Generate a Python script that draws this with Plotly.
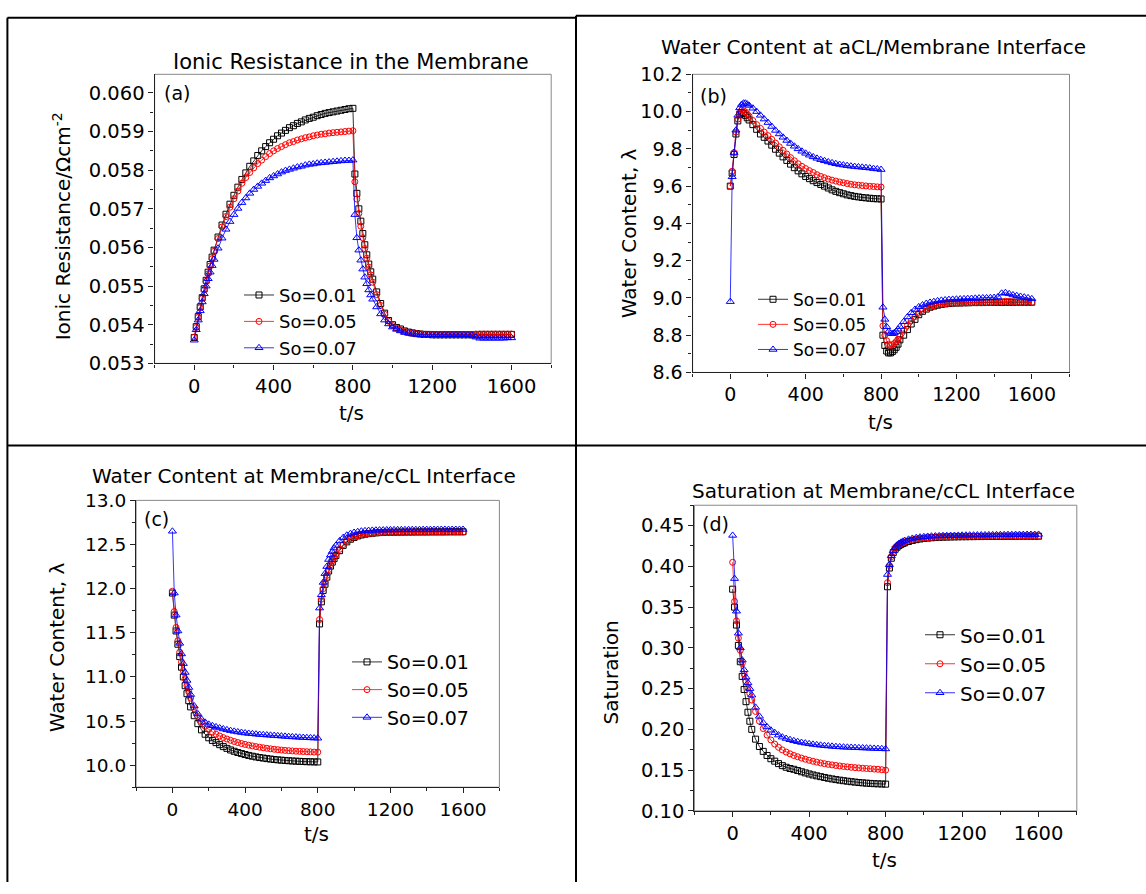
import plotly.graph_objects as go

W, H = 1146, 894

# time grid (s), shared by all curves
t = [0, 10, 20, 30, 40, 50, 60, 70, 80, 90, 100,
     120, 140, 160, 180, 200, 220, 240, 260, 280, 300, 320, 340, 360, 380, 400,
     420, 440, 460, 480, 500, 520, 540, 560, 580, 600, 620, 640, 660, 680, 700, 720, 740, 760, 780, 800,
     810, 820, 830, 840, 850, 860, 870, 880, 890, 900,
     920, 940, 960, 980, 1000, 1020, 1040, 1060, 1080, 1100, 1120, 1140, 1160, 1180, 1200,
     1220, 1240, 1260, 1280, 1300, 1320, 1340, 1360, 1380, 1400, 1420, 1440, 1460, 1480, 1500, 1520, 1540, 1560, 1580, 1600]

labels = ["So=0.01", "So=0.05", "So=0.07"]

# (a) ionic resistance in the membrane
res_01 = [.05367, .05395, .05421, .05446, .05470, .05493, .05515, .05536, .05556, .05575, .05593,
          .05627, .05658, .05686, .05712, .05735, .05756, .05776, .05793, .05810, .05824, .05838, .05850, .05861, .05871, .05880,
          .05889, .05896, .05903, .05910, .05915, .05921, .05925, .05930, .05934, .05937, .05941, .05944, .05947, .05949, .05951, .05953, .05955, .05957, .05959, .05960,
          .05790, .05740, .05700, .05668, .05636, .05607, .05581, .05557, .05537, .05518,
          .05485, .05455, .05430, .05411, .05400, .05393, .05389, .05384, .05381, .05379, .05377, .05376, .05375, .05375, .05374,
          .05374, .05374, .05374, .05374, .05374, .05374, .05374, .05374, .05374, .05374, .05374, .05375, .05375, .05375, .05375, .05375, .05375, .05375, .05375, .05375]
res_05 = [.05368, .05393, .05419, .05444, .05468, .05490, .05512, .05532, .05552, .05571, .05590,
          .05623, .05653, .05680, .05704, .05726, .05746, .05766, .05781, .05794, .05806, .05817, .05826, .05835, .05843, .05850,
          .05856, .05861, .05866, .05871, .05874, .05878, .05881, .05884, .05886, .05889, .05891, .05893, .05894, .05896, .05897, .05898, .05899, .05900, .05901, .05902,
          .05770, .05725, .05688, .05655, .05625, .05597, .05572, .05549, .05529, .05510,
          .05478, .05450, .05427, .05409, .05398, .05391, .05387, .05383, .05380, .05378, .05377, .05376, .05375, .05375, .05375,
          .05375, .05375, .05375, .05375, .05375, .05375, .05375, .05375, .05375, .05375, .05376, .05376, .05376, .05376, .05376, .05376, .05376, .05376, .05376, .05376]
res_07 = [.05360, .05387, .05412, .05436, .05459, .05480, .05500, .05519, .05536, .05553, .05569,
          .05598, .05624, .05647, .05667, .05685, .05701, .05716, .05728, .05740, .05750, .05758, .05766, .05773, .05780, .05785,
          .05790, .05795, .05799, .05802, .05805, .05808, .05810, .05813, .05815, .05816, .05818, .05819, .05820, .05821, .05822, .05823, .05824, .05825, .05825, .05826,
          .05685, .05625, .05593, .05567, .05544, .05523, .05506, .05490, .05477, .05466,
          .05446, .05428, .05412, .05402, .05394, .05388, .05384, .05380, .05378, .05376, .05375, .05374, .05374, .05374, .05374,
          .05374, .05374, .05374, .05374, .05374, .05374, .05374, .05374, .05374, .05373, .05368, .05365, .05365, .05365, .05365, .05365, .05365, .05365, .05366, .05366]

# (b) water content at aCL/membrane interface
wa_01 = [9.600, 9.670, 9.770, 9.880, 9.950, 9.985, 9.995, 9.990, 9.980, 9.967, 9.955,
         9.930, 9.905, 9.880, 9.862, 9.842, 9.820, 9.798, 9.777, 9.757, 9.738, 9.718, 9.699, 9.682, 9.666, 9.652,
         9.640, 9.629, 9.619, 9.609, 9.600, 9.590, 9.580, 9.572, 9.565, 9.559, 9.553, 9.549, 9.545, 9.542, 9.539, 9.537, 9.535, 9.533, 9.532, 9.531,
         8.800, 8.745, 8.715, 8.705, 8.705, 8.712, 8.722, 8.735, 8.752, 8.775,
         8.800, 8.830, 8.860, 8.885, 8.910, 8.928, 8.940, 8.950, 8.956, 8.961, 8.965, 8.968, 8.970, 8.972, 8.973,
         8.973, 8.974, 8.974, 8.975, 8.975, 8.975, 8.975, 8.976, 8.976, 8.976, 8.976, 8.976, 8.977, 8.977, 8.977, 8.977, 8.977, 8.977, 8.977, 8.977]
wa_05 = [9.600, 9.680, 9.780, 9.890, 9.960, 9.995, 10.008, 10.005, 9.998, 9.987, 9.975,
         9.952, 9.930, 9.910, 9.890, 9.871, 9.851, 9.831, 9.811, 9.792, 9.772, 9.753, 9.736, 9.720, 9.706, 9.694,
         9.683, 9.673, 9.661, 9.652, 9.645, 9.638, 9.632, 9.627, 9.622, 9.618, 9.614, 9.610, 9.607, 9.605, 9.603, 9.601, 9.599, 9.598, 9.596, 9.595,
         8.850, 8.800, 8.770, 8.752, 8.745, 8.748, 8.755, 8.765, 8.778, 8.795,
         8.825, 8.852, 8.877, 8.900, 8.918, 8.933, 8.944, 8.952, 8.958, 8.963, 8.966, 8.969, 8.971, 8.972, 8.973,
         8.973, 8.974, 8.974, 8.974, 8.975, 8.975, 8.975, 8.975, 8.975, 8.976, 8.976, 8.978, 8.982, 8.981, 8.979, 8.977, 8.976, 8.976, 8.976, 8.976]
wa_07 = [8.980, 9.650, 9.780, 9.900, 9.980, 10.020, 10.038, 10.045, 10.045, 10.040, 10.033,
         10.018, 10.000, 9.980, 9.960, 9.941, 9.920, 9.899, 9.880, 9.862, 9.845, 9.829, 9.814, 9.800, 9.787, 9.776,
         9.766, 9.757, 9.749, 9.742, 9.736, 9.730, 9.725, 9.720, 9.716, 9.713, 9.710, 9.707, 9.705, 9.703, 9.701, 9.699, 9.697, 9.694, 9.692, 9.689,
         8.950, 8.885, 8.845, 8.820, 8.810, 8.808, 8.812, 8.820, 8.832, 8.846,
         8.872, 8.898, 8.920, 8.938, 8.952, 8.962, 8.970, 8.976, 8.980, 8.984, 8.987, 8.989, 8.991, 8.992, 8.993,
         8.994, 8.995, 8.996, 8.997, 8.998, 8.999, 9.000, 9.000, 9.001, 9.002, 9.005, 9.025, 9.028, 9.022, 9.016, 9.012, 9.008, 9.004, 9.000, 8.995]

# (c) water content at membrane/cCL interface
wc_01 = [11.95, 11.70, 11.52, 11.37, 11.23, 11.11, 11.00, 10.90, 10.81, 10.73, 10.66,
         10.56, 10.47, 10.40, 10.35, 10.31, 10.28, 10.255, 10.232, 10.21, 10.19, 10.172, 10.157, 10.143, 10.131, 10.12,
         10.11, 10.101, 10.093, 10.086, 10.08, 10.074, 10.069, 10.064, 10.06, 10.056, 10.053, 10.05, 10.047, 10.045, 10.043, 10.041, 10.039, 10.038, 10.037, 10.036,
         11.60, 11.85, 11.98, 12.05, 12.13, 12.20, 12.255, 12.30, 12.34, 12.375,
         12.43, 12.49, 12.53, 12.56, 12.58, 12.597, 12.608, 12.617, 12.623, 12.628, 12.632, 12.635, 12.637, 12.639, 12.64,
         12.64, 12.641, 12.641, 12.642, 12.642, 12.642, 12.643, 12.643, 12.643, 12.643, 12.644, 12.644, 12.644, 12.644, 12.644, 12.645, 12.645, 12.645, 12.645, 12.645]
wc_05 = [11.97, 11.74, 11.56, 11.41, 11.28, 11.17, 11.07, 10.98, 10.90, 10.83, 10.76,
         10.64, 10.55, 10.49, 10.44, 10.405, 10.375, 10.35, 10.33, 10.312, 10.296, 10.281, 10.268, 10.256, 10.245, 10.235,
         10.226, 10.218, 10.21, 10.203, 10.197, 10.191, 10.185, 10.18, 10.175, 10.171, 10.167, 10.164, 10.161, 10.158, 10.156, 10.154, 10.152, 10.15, 10.148, 10.147,
         11.65, 11.88, 12.00, 12.07, 12.15, 12.215, 12.27, 12.315, 12.355, 12.39,
         12.445, 12.50, 12.54, 12.567, 12.586, 12.60, 12.61, 12.618, 12.624, 12.628, 12.632, 12.634, 12.636, 12.637, 12.638,
         12.638, 12.638, 12.639, 12.639, 12.639, 12.64, 12.64, 12.64, 12.64, 12.64, 12.64, 12.64, 12.64, 12.64, 12.64, 12.64, 12.64, 12.64, 12.64, 12.64]
wc_07 = [12.65, 11.95, 11.70, 11.52, 11.38, 11.26, 11.15, 11.05, 10.96, 10.88, 10.80,
         10.67, 10.58, 10.52, 10.485, 10.462, 10.446, 10.433, 10.421, 10.41, 10.40, 10.391, 10.383, 10.376, 10.37, 10.364,
         10.359, 10.355, 10.351, 10.347, 10.344, 10.341, 10.338, 10.335, 10.332, 10.329, 10.326, 10.323, 10.32, 10.318, 10.315, 10.313, 10.311, 10.309, 10.307, 10.305,
         11.78, 11.93, 12.07, 12.17, 12.25, 12.33, 12.38, 12.42, 12.46, 12.49,
         12.54, 12.578, 12.605, 12.623, 12.636, 12.645, 12.651, 12.655, 12.658, 12.66, 12.662, 12.663, 12.664, 12.665, 12.666,
         12.666, 12.667, 12.667, 12.667, 12.668, 12.668, 12.668, 12.668, 12.669, 12.669, 12.669, 12.669, 12.67, 12.67, 12.67, 12.67, 12.67, 12.67, 12.67, 12.67]

# (d) saturation at membrane/cCL interface
sat_01 = [0.372, 0.350, 0.328, 0.303, 0.283, 0.265, 0.249, 0.234, 0.221, 0.210, 0.200,
          0.188, 0.179, 0.173, 0.168, 0.164, 0.161, 0.158, 0.1555, 0.1535, 0.152, 0.151, 0.1495, 0.148, 0.1466, 0.1453,
          0.1441, 0.143, 0.142, 0.141, 0.140, 0.1392, 0.1384, 0.1377, 0.137, 0.1364, 0.1358, 0.1353, 0.1348, 0.1344, 0.134, 0.1337, 0.1334, 0.1332, 0.133, 0.1328,
          0.375, 0.398, 0.410, 0.417, 0.421, 0.4235, 0.4255, 0.427, 0.428, 0.429,
          0.4305, 0.4318, 0.4328, 0.4336, 0.4342, 0.4347, 0.4351, 0.4354, 0.4357, 0.4359, 0.436, 0.4361, 0.4362, 0.4363, 0.4364,
          0.4364, 0.4365, 0.4365, 0.4366, 0.4366, 0.4367, 0.4367, 0.4367, 0.4368, 0.4368, 0.4368, 0.4369, 0.4369, 0.4369, 0.437, 0.437, 0.437, 0.437, 0.437, 0.437]
sat_05 = [0.405, 0.357, 0.333, 0.312, 0.297, 0.281, 0.268, 0.259, 0.251, 0.244, 0.236,
          0.222, 0.210, 0.201, 0.193, 0.187, 0.182, 0.178, 0.1748, 0.1722, 0.170, 0.168, 0.1664, 0.1648, 0.1634, 0.1621,
          0.1609, 0.1598, 0.1588, 0.1579, 0.1571, 0.1564, 0.1557, 0.1551, 0.1545, 0.154, 0.1535, 0.1531, 0.1527, 0.1523, 0.152, 0.1517, 0.1513, 0.151, 0.1505, 0.150,
          0.380, 0.401, 0.412, 0.418, 0.4222, 0.4245, 0.4263, 0.4278, 0.429, 0.430,
          0.4315, 0.4326, 0.4335, 0.4342, 0.4347, 0.4351, 0.4355, 0.4358, 0.436, 0.4362, 0.4364, 0.4365, 0.4366, 0.4367, 0.4368,
          0.4368, 0.4369, 0.4369, 0.437, 0.437, 0.437, 0.4371, 0.4371, 0.4371, 0.4372, 0.4372, 0.4372, 0.4372, 0.4373, 0.4373, 0.4373, 0.4373, 0.4373, 0.4373, 0.4373]
sat_07 = [0.438, 0.385, 0.345, 0.318, 0.300, 0.285, 0.273, 0.264, 0.257, 0.250, 0.242,
          0.227, 0.216, 0.208, 0.203, 0.199, 0.196, 0.193, 0.1905, 0.1888, 0.1873, 0.186, 0.1849, 0.1839, 0.1831, 0.1823,
          0.1816, 0.181, 0.1805, 0.18, 0.1796, 0.1792, 0.1788, 0.1785, 0.1782, 0.178, 0.1778, 0.1776, 0.1774, 0.1772, 0.177, 0.1768, 0.1766, 0.1764, 0.1762, 0.176,
          0.390, 0.402, 0.413, 0.419, 0.423, 0.426, 0.428, 0.4295, 0.4307, 0.4317,
          0.4332, 0.4343, 0.4352, 0.4358, 0.4363, 0.4367, 0.437, 0.4372, 0.4374, 0.4376, 0.4377, 0.4378, 0.4379, 0.438, 0.4381,
          0.4382, 0.4383, 0.4383, 0.4384, 0.4385, 0.4385, 0.4386, 0.4387, 0.4387, 0.4388, 0.4388, 0.4389, 0.4389, 0.439, 0.439, 0.439, 0.4391, 0.4391, 0.4391, 0.4392]

colors = ["#000000", "#ff0000", "#0000ff"]
symbols = ["square-open", "circle-open", "triangle-up-open"]
msizes = [6, 6, 7]
FONT = "DejaVu Sans"


def px(x):
    return x / W


def py(y):
    return 1 - y / H


# pixel boxes (left, right, top, bottom)
panels = [
    dict(data=(res_01, res_05, res_07), box=(154.6, 551.2, 65, 361.7), yr=[0.053, 0.06048],
         dtick=0.001, minor=0.0005, fmt=".3f", tick_size=19.5,
         title="Ionic Resistance in the Membrane", tpos=(350.5, 52), tsize=21,
         ytitle="Ionic Resistance/Ωcm<sup>-2</sup>", ypos=(62, 221),
         xtpos=(351.5, 413), lab="(a)", labpos=(162, 84),
         leg=(239, 319), legsize=18),
    dict(data=(wa_01, wa_05, wa_07), box=(692.6, 1069.5, 65, 371), yr=[8.6, 10.2],
         dtick=0.2, minor=0.1, fmt=".1f", tick_size=19,
         title="Water Content at aCL/Membrane Interface", tpos=(873, 37), tsize=20,
         ytitle="Water Content, λ", ypos=(629, 228),
         xtpos=(880, 421.7), lab="(b)", labpos=(698, 87),
         leg=(753, 322), legsize=17),
    dict(data=(wc_01, wc_05, wc_07), box=(136.1, 499.4, 502.3, 796.7), yr=[9.75, 13.0],
         dtick=0.5, minor=0.25, fmt=".1f", tick_size=18.5,
         title="Water Content at Membrane/cCL Interface", tpos=(304, 477), tsize=20,
         ytitle="Water Content, λ", ypos=(57, 653),
         xtpos=(316.3, 845), lab="(c)", labpos=(142, 521),
         leg=(347, 697), legsize=19),
    dict(data=(sat_01, sat_05, sat_07), box=(694.4, 1076.8, 507.3, 821), yr=[0.10, 0.475],
         dtick=0.05, minor=0.025, fmt=".2f", tick_size=19.5,
         title="Saturation at Membrane/cCL Interface", tpos=(883, 493), tsize=20,
         ytitle="Saturation", ypos=(611, 679),
         xtpos=(884.5, 871.7), lab="(d)", labpos=(700, 527),
         leg=(920, 670), legsize=20),
]

fig = go.Figure()
annotations = []
shapes = []

for i, p in enumerate(panels):
    n = "" if i == 0 else str(i + 1)
    for ser, lab, c, s, ms in zip(p["data"], labels, colors, symbols, msizes):
        assert len(ser) == len(t)
        fig.add_trace(go.Scatter(
            x=t, y=ser, mode="lines+markers", name=lab,
            xaxis="x" + n, yaxis="y" + n, legend="legend" + n,
            line=dict(color=c, width=0.8),
            marker=dict(symbol=s, size=ms, color=c, line=dict(width=1, color=c)),
        ))
    l, r, tp, bt = p["box"]
    common = dict(showline=True, linecolor="#222", linewidth=1.3, ticks="outside",
                  ticklen=5, tickwidth=1.2, tickcolor="#222", showgrid=False, zeroline=False,
                  tickfont=dict(family=FONT, size=p["tick_size"], color="#000"))
    fig.update_layout(**{
        "xaxis" + n: dict(domain=[px(l), px(r)], range=[-200, 1800], anchor="y" + n,
                          tick0=0, dtick=400,
                          minor=dict(dtick=200, ticks="outside", ticklen=3, tickcolor="#222"),
                          **common),
        "yaxis" + n: dict(domain=[py(bt), py(tp)], range=p["yr"], anchor="x" + n,
                          tick0=0, dtick=p["dtick"], tickformat=p["fmt"],
                          minor=dict(dtick=p["minor"], ticks="outside", ticklen=3, tickcolor="#222"),
                          **common),
        "legend" + n: dict(x=px(p["leg"][0]), y=py(p["leg"][1]), xanchor="left", yanchor="middle",
                           bgcolor="rgba(0,0,0,0)", borderwidth=0,
                           font=dict(family=FONT, size=p["legsize"], color="#000")),
    })
    # light frame on top/right
    shapes.append(dict(type="rect", xref="x" + n + " domain", yref="y" + n + " domain",
                       x0=0, x1=1, y0=0, y1=1, line=dict(color="#888", width=1), layer="below"))
    annotations += [
        dict(text=p["title"], x=px(p["tpos"][0]), y=py(p["tpos"][1]), xanchor="center", yanchor="middle",
             font=dict(family=FONT, size=p["tsize"], color="#000")),
        dict(text=p["ytitle"], x=px(p["ypos"][0]), y=py(p["ypos"][1]), textangle=-90,
             xanchor="center", yanchor="middle", font=dict(family=FONT, size=20, color="#000")),
        dict(text="t/s", x=px(p["xtpos"][0]), y=py(p["xtpos"][1]), xanchor="center", yanchor="middle",
             font=dict(family=FONT, size=20, color="#000")),
        dict(text=p["lab"], x=px(p["labpos"][0]), y=py(p["labpos"][1]), xanchor="left", yanchor="middle",
             font=dict(family=FONT, size=19, color="#000")),
    ]

for a in annotations:
    a.update(xref="paper", yref="paper", showarrow=False)

# panel separators
for x0, y0, x1, y1 in [(7.4, 7, 7.4, 894), (7.4, 7, 576, 7), (576, 5, 1146, 5),
                       (576, 5, 576, 894), (7.4, 446, 1146, 446)]:
    shapes.append(dict(type="line", xref="paper", yref="paper",
                       x0=px(x0), y0=py(y0), x1=px(x1), y1=py(y1),
                       line=dict(color="#000", width=2)))

fig.update_layout(width=W, height=H, autosize=False, margin=dict(l=0, r=0, t=0, b=0),
                  paper_bgcolor="white", plot_bgcolor="white",
                  annotations=annotations, shapes=shapes,
                  font=dict(family=FONT, color="#000"))

# drop the default page margin so the figure sits at the window's top-left corner
fig.write_html("out.html",
               post_script="document.body.style.margin='0';document.body.style.overflow='hidden';",
               config={"displayModeBar": False})
